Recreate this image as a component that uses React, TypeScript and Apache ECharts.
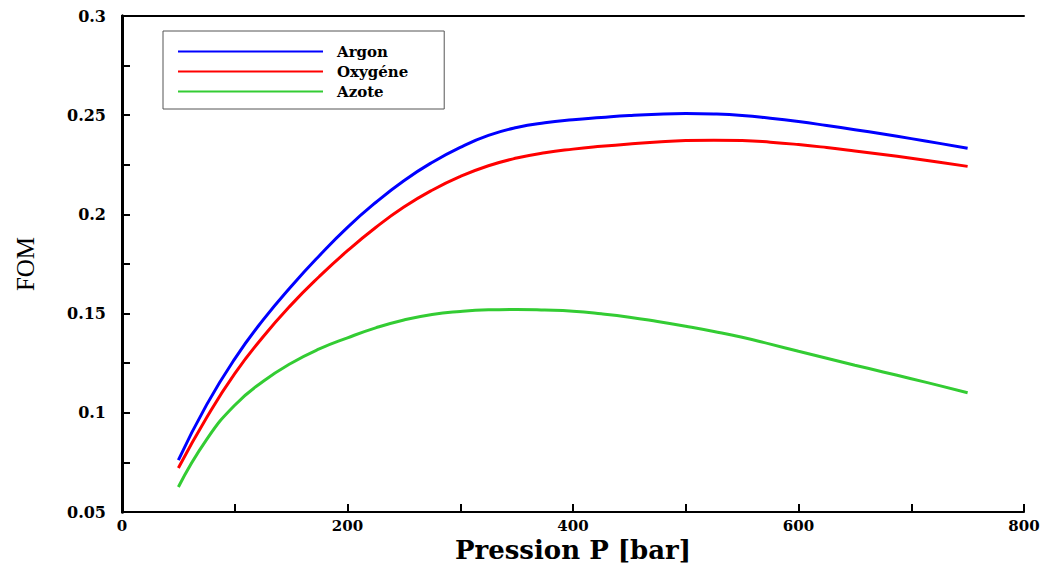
import React, { useEffect, useRef } from "react";
import * as echarts from "echarts";

const pressure = [50, 75, 100, 125, 150, 175, 200, 225, 250, 275, 300, 325, 350, 375, 400, 425, 450, 475, 500, 525, 550, 575, 600, 625, 650, 675, 700, 725, 750];
const argon = [0.0762, 0.104, 0.1272, 0.1467, 0.1637, 0.1792, 0.1935, 0.206, 0.217, 0.2262, 0.2338, 0.2398, 0.2438, 0.2462, 0.2477, 0.2488, 0.2498, 0.2505, 0.2508, 0.2506, 0.2499, 0.2485, 0.2468, 0.2448, 0.2427, 0.2405, 0.2382, 0.2358, 0.2333];
const oxygene = [0.0722, 0.0975, 0.1197, 0.1382, 0.1544, 0.1687, 0.1817, 0.1934, 0.2037, 0.2122, 0.2191, 0.2245, 0.2284, 0.2311, 0.2329, 0.2343, 0.2355, 0.2365, 0.2372, 0.2374, 0.2372, 0.2364, 0.2352, 0.2337, 0.232, 0.2302, 0.2283, 0.2263, 0.2242];
const azote = [0.0626, 0.0865, 0.1038, 0.1158, 0.125, 0.1322, 0.1378, 0.1428, 0.1468, 0.1496, 0.1511, 0.1519, 0.1521, 0.1518, 0.1512, 0.1499, 0.1482, 0.146, 0.1436, 0.141, 0.1381, 0.1346, 0.131, 0.1275, 0.124, 0.1206, 0.1172, 0.1137, 0.1101];
const seriesNames = ["Argon", "Oxygéne", "Azote"];
const seriesColors = ["#0000ff", "#ff0000", "#33cc33"];

const tickFont = { fontFamily: "DejaVu Serif", fontWeight: "bold" as const, fontSize: 16, color: "#000" };

export default function App() {
  const ref = useRef<HTMLDivElement>(null);
  useEffect(() => {
    if (!ref.current) return;
    const chart = echarts.init(ref.current, undefined, { renderer: "svg" });
    const datasets = [argon, oxygene, azote];
    chart.setOption({
      animation: false,
      backgroundColor: "#fff",
      grid: { left: 122, right: 23, top: 16, bottom: 52, outerBoundsMode: "none", containLabel: false },
      legend: {
        orient: "vertical",
        left: 163,
        top: 31,
        data: seriesNames,
        borderColor: "#555",
        borderWidth: 1,
        padding: [13, 36, 10, 14],
        itemWidth: 145,
        itemHeight: 14,
        itemGap: 5,
        lineStyle: { width: 2 },
        itemStyle: { opacity: 0 },
        textStyle: { fontFamily: "DejaVu Serif", fontWeight: "bold", fontSize: 15, color: "#000", padding: [0, 0, 0, 9] },
      },
      xAxis: [
        {
          type: "value",
          min: 0,
          max: 800,
          interval: 100,
          name: "Pression P [bar]",
          nameLocation: "middle",
          nameGap: 25,
          nameMoveOverlap: false,
          nameTextStyle: { fontFamily: "DejaVu Serif", fontWeight: "bold", fontSize: 26, lineHeight: 26, color: "#000" },
          axisLine: { show: true, lineStyle: { color: "#000", width: 2 } },
          axisTick: { show: true, inside: true, length: 8, lineStyle: { color: "#000", width: 2 } },
          axisLabel: {
            ...tickFont,
            fontSize: 15,
            lineHeight: 14,
            margin: 7,
            showMinLabel: true,
            showMaxLabel: true,
            formatter: (v: number) => (Math.round(v) % 200 === 0 ? String(Math.round(v)) : ""),
          },
          splitLine: { show: false },
        },
        {
          type: "value",
          position: "top",
          min: 0,
          max: 800,
          axisLine: { show: true, lineStyle: { color: "#000", width: 2 } },
          axisTick: { show: false },
          axisLabel: { show: false },
          splitLine: { show: false },
        },
      ],
      yAxis: [
        {
          type: "value",
          min: 0.05,
          max: 0.3,
          interval: 0.025,
          name: "FOM",
          nameLocation: "middle",
          nameGap: 84,
          nameMoveOverlap: false,
          nameRotate: 90,
          nameTextStyle: { fontFamily: "Liberation Serif", fontSize: 25, color: "#000" },
          axisLine: { show: true, lineStyle: { color: "#000", width: 3 } },
          axisTick: { show: true, inside: true, length: 8, lineStyle: { color: "#000", width: 2 } },
          axisLabel: {
            ...tickFont,
            margin: 16,
            showMinLabel: true,
            showMaxLabel: true,
            formatter: (v: number) => {
              const m = Math.round(v * 1000);
              return m % 50 === 0 ? String(m / 1000) : "";
            },
          },
          splitLine: { show: false },
        },
        {
          type: "value",
          position: "right",
          min: 0.05,
          max: 0.3,
          axisLine: { show: true, lineStyle: { color: "#000", width: 3 } },
          axisTick: { show: false },
          axisLabel: { show: false },
          splitLine: { show: false },
        },
      ],
      series: seriesNames.map((name, i) => ({
        name,
        type: "line",
        smooth: 0.5,
        symbol: "none",
        xAxisIndex: 0,
        yAxisIndex: 0,
        color: seriesColors[i],
        lineStyle: { color: seriesColors[i], width: 3 },
        data: pressure.map((p, k) => [p, datasets[i][k]]),
      })),
    });
    return () => chart.dispose();
  }, []);
  return (
    <div
      ref={ref}
      style={{ position: "absolute", left: 0, top: 0, width: 1047, height: 564 }}
    />
  );
}
